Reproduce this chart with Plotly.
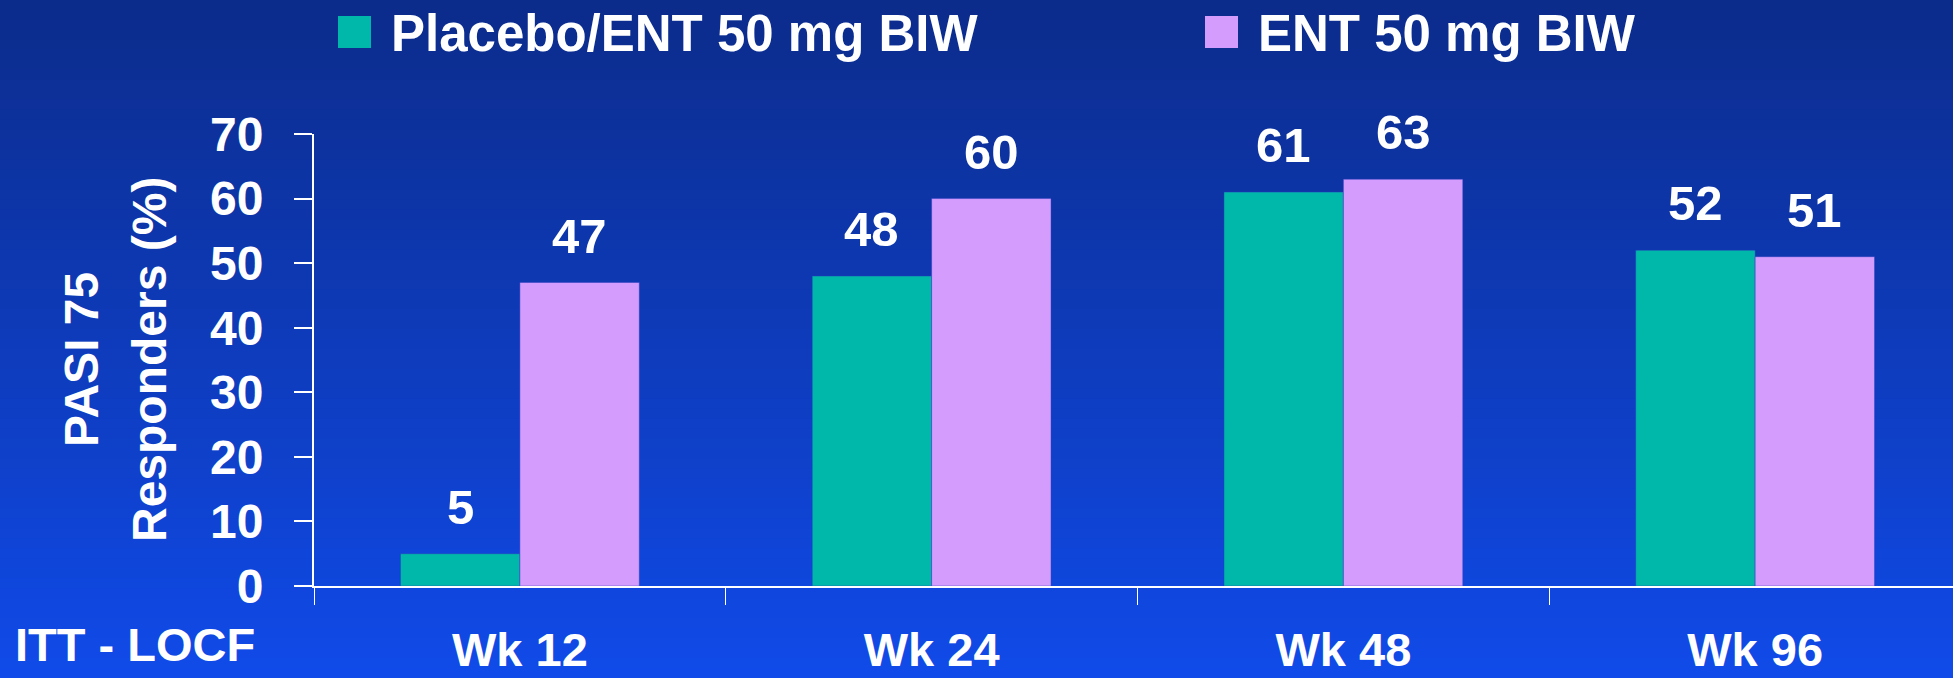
import plotly.graph_objects as go

# ---- data ----
categories = ["Wk 12", "Wk 24", "Wk 48", "Wk 96"]
placebo_ent = [5, 48, 61, 52]
ent_50 = [47, 60, 63, 51]
series_names = ["Placebo/ENT 50 mg BIW", "ENT 50 mg BIW"]
y_ticks = [0, 10, 20, 30, 40, 50, 60, 70]
y_title_lines = ["PASI 75", "Responders (%)"]
footnote = "ITT - LOCF"

# ---- style ----
W, H = 1961, 678
ML, MR, MT, MB = 314, 0, 134, 92
PW, PH = W - ML - MR, H - MT - MB
FONT = "Liberation Sans, Arial, Helvetica, sans-serif"
TEAL = "#00b8a9"
LILAC = "#d49cfc"
WHITE = "#ffffff"
BG_TOP = (12, 44, 140)
BG_BOT = (16, 74, 232)


def px_x(px):
    return (px - ML) / PW


def px_y(py):
    return (H - MB - py) / PH


fig = go.Figure()
fig.add_trace(go.Bar(x=categories, y=placebo_ent, name=series_names[0],
                     marker=dict(color=TEAL, line=dict(color="rgba(40,60,190,0.45)", width=1)),
                     showlegend=False))
fig.add_trace(go.Bar(x=categories, y=ent_50, name=series_names[1],
                     marker=dict(color=LILAC, line=dict(color="rgba(40,60,190,0.45)", width=1)),
                     showlegend=False))

bargap = 0.42
bar_w = PW / len(categories) * (1 - bargap) / 2

annotations = []
# value labels
for vals, sign in ((placebo_ent, -1), (ent_50, 1)):
    for c, v in zip(categories, vals):
        annotations.append(dict(x=c, y=v, xref="x", yref="y", text=str(v), showarrow=False,
                                xshift=sign * bar_w / 2, yshift=18, yanchor="bottom",
                                font=dict(family=FONT, size=49, color=WHITE, weight="bold")))

# y-axis title (two lines)
for line, cx in zip(y_title_lines, (81, 149)):
    annotations.append(dict(x=px_x(cx), y=0.5, xref="paper", yref="paper", text=line,
                            showarrow=False, textangle=-90, xanchor="center", yanchor="middle",
                            font=dict(family=FONT, size=48, color=WHITE, weight="bold")))

# footnote
annotations.append(dict(x=px_x(13), y=px_y(644), xref="paper", yref="paper", text=footnote,
                        showarrow=False, xanchor="left", yanchor="middle",
                        font=dict(family=FONT, size=47, color=WHITE, weight="bold")))

# custom legend
shapes = []
legend_items = [(series_names[0], TEAL, 338, 389), (series_names[1], LILAC, 1205, 1256)]
for name, col, sx, tx in legend_items:
    shapes.append(dict(type="rect", xref="paper", yref="paper",
                       x0=px_x(sx), x1=px_x(sx + 33), y0=px_y(48), y1=px_y(16),
                       fillcolor=col, line=dict(width=0), layer="above"))
    annotations.append(dict(x=px_x(tx), y=px_y(33), xref="paper", yref="paper", text=name,
                            showarrow=False, xanchor="left", yanchor="middle",
                            font=dict(family=FONT, size=51, color=WHITE, weight="bold")))

# background gradient
n_steps = 68
for i in range(n_steps):
    t = i / (n_steps - 1)
    r = round(BG_TOP[0] + (BG_BOT[0] - BG_TOP[0]) * t)
    g = round(BG_TOP[1] + (BG_BOT[1] - BG_TOP[1]) * t)
    b = round(BG_TOP[2] + (BG_BOT[2] - BG_TOP[2]) * t)
    y_top = H * i / n_steps
    y_bot = H * (i + 1) / n_steps + 1
    shapes.append(dict(type="rect", xref="paper", yref="paper",
                       x0=px_x(-2), x1=px_x(W + 2), y0=px_y(y_bot), y1=px_y(y_top),
                       fillcolor=f"rgb({r},{g},{b})", line=dict(width=0), layer="below"))

fig.update_layout(
    width=W, height=H,
    margin=dict(l=ML, r=MR, t=MT, b=MB, pad=0),
    template="none",
    barmode="group", bargap=bargap, bargroupgap=0,
    paper_bgcolor="rgb(14,60,190)", plot_bgcolor="rgba(0,0,0,0)",
    showlegend=False,
    annotations=annotations, shapes=shapes,
    font=dict(family=FONT, color=WHITE),
    xaxis=dict(
        showline=True, linecolor=WHITE, linewidth=2,
        ticks="outside", tickson="boundaries", ticklen=17, tickwidth=1, tickcolor=WHITE,
        ticklabelstandoff=22, showgrid=False, zeroline=False, automargin=False,
        tickfont=dict(family=FONT, size=47, color=WHITE, weight="bold"),
    ),
    yaxis=dict(
        range=[0, 70], tickvals=y_ticks, ticktext=[str(v) for v in y_ticks],
        showline=True, linecolor=WHITE, linewidth=2,
        ticks="outside", ticklen=18, tickwidth=2, tickcolor=WHITE,
        ticklabelstandoff=21, showgrid=False, zeroline=False, automargin=False,
        tickfont=dict(family=FONT, size=48, color=WHITE, weight="bold"),
    ),
)

fig.write_html("out.html", config={"displayModeBar": False},
               post_script="document.body.style.margin='0';document.body.style.overflow='hidden';")
